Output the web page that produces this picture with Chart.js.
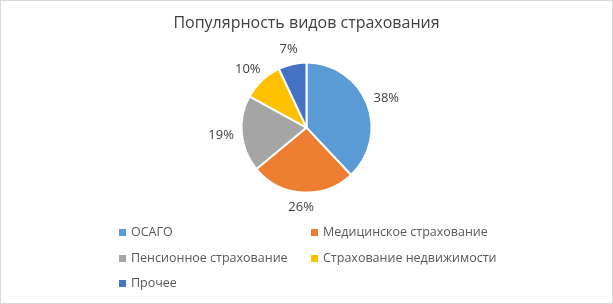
<!DOCTYPE html>
<html>
<head>
<meta charset="utf-8">
<script src="https://cdn.jsdelivr.net/npm/chart.js@4"></script>
<style>
  html, body { margin: 0; padding: 0; background: #fff; }
  #wrap { position: relative; width: 613px; height: 304px; box-sizing: border-box; border: 1px solid #d9d9d9; background: #fff; }
  #c { position: absolute; left: 0; top: 0; }
  .lg { position: absolute; font-family: 'Open Sans', sans-serif; font-size: 12.5px; color: #595959; white-space: nowrap; line-height: 16px; }
  .lg i { position: absolute; left: -12px; top: 5px; width: 7px; height: 7px; }
</style>
</head>
<body>
<div id="wrap">
  <canvas id="c" width="611" height="302"></canvas>
  <div id="legend"></div>
</div>
<script>
const labels = ['ОСАГО', 'Медицинское страхование', 'Пенсионное страхование', 'Страхование недвижимости', 'Прочее'];
const shares = [38, 26, 19, 10, 7];
const colors = ['#5B9BD5', '#ED7D31', '#A5A5A5', '#FFC000', '#4472C4'];
const chartTitle = 'Популярность видов страхования';

// percent labels outside each slice
const outsideLabels = {
  id: 'outside-labels',
  afterDatasetsDraw(ch) {
    const {ctx} = ch;
    const meta = ch.getDatasetMeta(0);
    ctx.save();
    ctx.font = '13px "Open Sans", sans-serif';
    ctx.fillStyle = '#404040';
    ctx.textAlign = 'center';
    ctx.textBaseline = 'middle';
    meta.data.forEach((arc, i) => {
      const mid = (arc.startAngle + arc.endAngle) / 2;
      const txt = shares[i] + '%';
      const w = ctx.measureText(txt).width, h = 14;
      const r = arc.outerRadius + 8;
      const ax = arc.x + Math.cos(mid) * r, ay = arc.y + Math.sin(mid) * r;
      ctx.fillText(txt, ax + Math.cos(mid) * w / 2, ay + Math.sin(mid) * h / 2);
    });
    ctx.restore();
  }
};

new Chart(document.getElementById('c'), {
  type: 'pie',
  data: {
    labels,
    datasets: [{ data: shares, backgroundColor: colors, borderColor: '#fff', borderWidth: 2 }]
  },
  options: {
    responsive: false,
    animation: false,
    radius: 65,
    layout: { padding: { bottom: 111 } },
    plugins: {
      legend: { display: false },
      tooltip: { enabled: false },
      title: {
        display: true, text: chartTitle, color: '#404040',
        font: { family: '"Open Sans", sans-serif', size: 16, weight: 'normal' },
        padding: { top: 13, bottom: 30 }
      }
    }
  },
  plugins: [outsideLabels]
});

// two-column legend below the pie
const pos = [[130, 223], [322, 223], [130, 249], [322, 249], [130, 274]];
document.getElementById('legend').innerHTML = labels.map((l, i) =>
  `<div class="lg" style="left:${pos[i][0]}px;top:${pos[i][1]}px"><i style="background:${colors[i]}"></i>${l}</div>`
).join('');
</script>
</body>
</html>
